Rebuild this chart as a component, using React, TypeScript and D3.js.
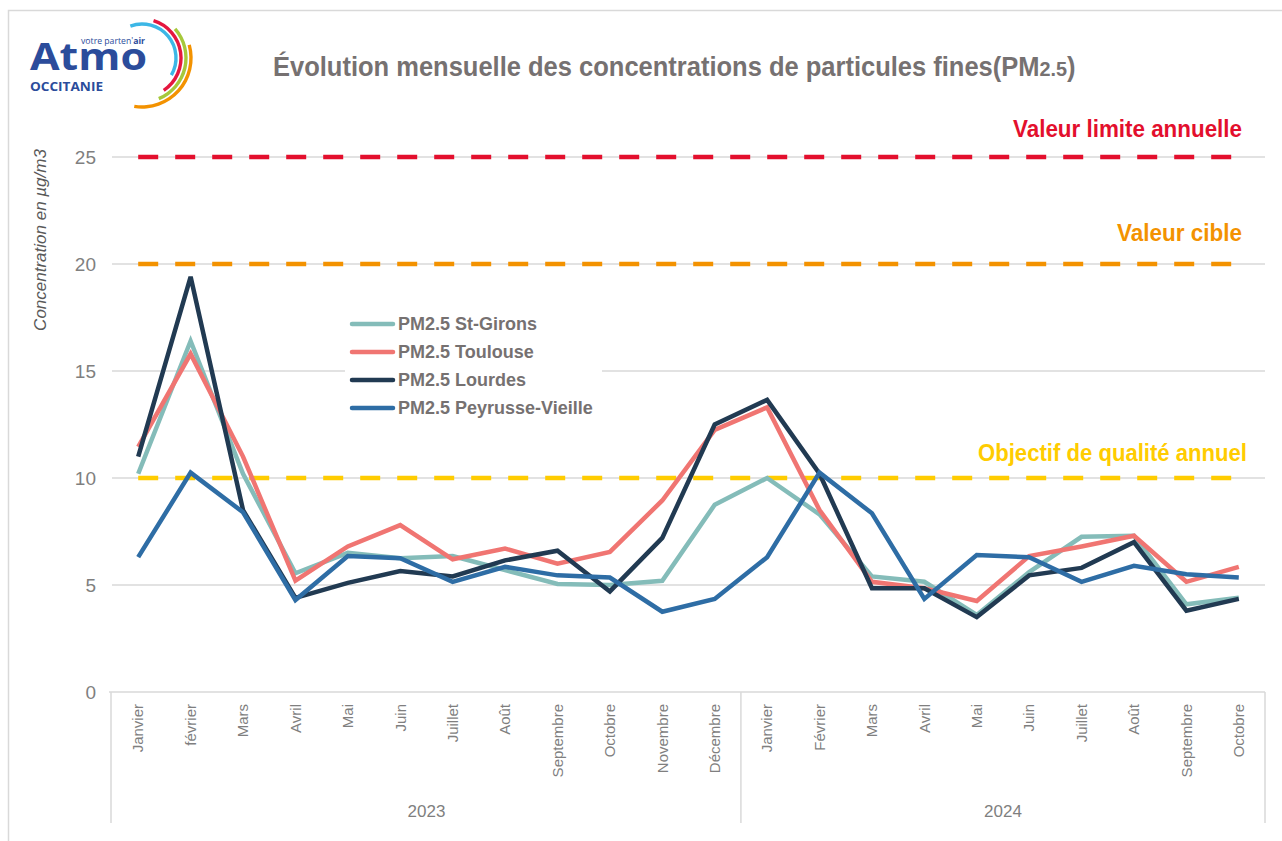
import React from 'react'
import * as d3 from 'd3'

const months2023 = ['Janvier', 'février', 'Mars', 'Avril', 'Mai', 'Juin', 'Juillet', 'Août', 'Septembre', 'Octobre', 'Novembre', 'Décembre']
const months2024 = ['Janvier', 'Février', 'Mars', 'Avril', 'Mai', 'Juin', 'Juillet', 'Août', 'Septembre', 'Octobre']
const years = [
  { label: '2023', months: months2023 },
  { label: '2024', months: months2024 },
]

const stGirons = [10.2, 16.4, 10.2, 5.55, 6.5, 6.25, 6.35, 5.7, 5.05, 5.0, 5.2, 8.75, 10.0, 8.3, 5.4, 5.15, 3.6, 5.6, 7.25, 7.3, 4.1, 4.4]
const toulouse = [11.45, 15.8, 11.0, 5.2, 6.8, 7.8, 6.2, 6.7, 6.0, 6.55, 8.95, 12.25, 13.3, 8.5, 5.15, 4.85, 4.25, 6.35, 6.8, 7.3, 5.15, 5.85]
const lourdes = [11.0, 19.4, 8.5, 4.4, 5.1, 5.65, 5.4, 6.15, 6.6, 4.7, 7.2, 12.5, 13.65, 10.2, 4.85, 4.85, 3.5, 5.45, 5.8, 7.0, 3.8, 4.35]
const peyrusse = [6.3, 10.25, 8.4, 4.3, 6.35, 6.25, 5.15, 5.85, 5.45, 5.35, 3.75, 4.35, 6.3, 10.25, 8.35, 4.35, 6.4, 6.3, 5.15, 5.9, 5.5, 5.35]

const series = [
  { name: 'PM2.5 St-Girons', values: stGirons, color: '#84bcb9' },
  { name: 'PM2.5 Toulouse', values: toulouse, color: '#f07572' },
  { name: 'PM2.5 Lourdes', values: lourdes, color: '#213a52' },
  { name: 'PM2.5 Peyrusse-Vieille', values: peyrusse, color: '#2e6da5' },
]

const thresholds = [
  { label: 'Valeur limite annuelle', value: 25, color: '#e30f2d' },
  { label: 'Valeur cible', value: 20, color: '#f39200' },
  { label: 'Objectif de qualité annuel', value: 10, color: '#ffcc00' },
]

const yTicks = [0, 5, 10, 15, 20, 25]

const narrow = '"Liberation Sans Narrow", "Arial Narrow", "Liberation Sans", sans-serif'

export default function App() {
  const width = 1282
  const height = 841
  const left = 112
  const right = 1265
  const top = 157
  const bottom = 692

  const cats = years.flatMap(y => y.months.map((m, i) => `${y.label}-${i}`))
  const x = d3.scaleBand().domain(cats).range([left, right])
  const cx = (i: number) => (x(cats[i]) as number) + x.bandwidth() / 2
  const y = d3.scaleLinear().domain([0, 25]).range([bottom, top])

  const line = d3.line<number>().x((_, i) => cx(i)).y(d => y(d))

  let offset = 0
  const yearGroups = years.map(yr => {
    const start = x(cats[offset]) as number
    const end = (x(cats[offset + yr.months.length - 1]) as number) + x.bandwidth()
    const g = { ...yr, start, end, offset }
    offset += yr.months.length
    return g
  })

  // label placement for threshold texts (right edge, baseline, width)
  const thrLabels = [
    { xr: 1242, yb: 137, w: 229 },
    { xr: 1242, yb: 241, w: 125 },
    { xr: 1247, yb: 461, w: 269 },
  ]

  const arc = d3.arc()
  const logoArcs = [
    { r: 34, a0: -0.35, a1: 2.1, color: '#3cb7e6' },
    { r: 39, a0: 0.3, a1: 2.55, color: '#e5173f' },
    { r: 44, a0: 0.85, a1: 2.75, color: '#a6c83b' },
    { r: 49, a0: 1.3, a1: 3.3, color: '#f39200' },
  ]

  return (
    <svg width={width} height={height} style={{ position: 'absolute', left: 0, top: 0, background: '#fff' }}>
      <rect x={8.5} y={10.5} width={width} height={height} fill="none" stroke="#d9d9d9" strokeWidth={1.5} />

      {/* logo */}
      <g>
        {logoArcs.map((a, i) => (
          <path key={i} transform="translate(142,58)"
            d={arc({ innerRadius: a.r - 1.7, outerRadius: a.r + 1.7, startAngle: a.a0, endAngle: a.a1 }) as string}
            fill={a.color} />
        ))}
        <text x={30} y={70} fontFamily='"Open Sans", sans-serif' fontWeight={700} fontSize={37} fill="#2b4c9b"
          textLength={117} lengthAdjust="spacingAndGlyphs">Atmo</text>
        <text x={81} y={44} fontFamily='"Open Sans", sans-serif' fontSize={9} fill="#2b4c9b"
          textLength={64} lengthAdjust="spacingAndGlyphs">votre parten'<tspan fontWeight={700}>air</tspan></text>
        <text x={30} y={91} fontFamily='"Open Sans", sans-serif' fontWeight={700} fontSize={12.5} fill="#2b4c9b"
          textLength={73} lengthAdjust="spacingAndGlyphs">OCCITANIE</text>
      </g>

      <text transform="translate(273,76) scale(0.945,1)" fontFamily={narrow} fontWeight={700} fontSize={27} fill="#767171">
        Évolution mensuelle des concentrations de particules fines(PM<tspan fontSize={21}>2.5</tspan>)
      </text>

      {/* grid */}
      {yTicks.filter(t => t > 0).map(t => (
        <line key={t} x1={left} x2={right} y1={y(t)} y2={y(t)} stroke="#d9d9d9" strokeWidth={1.5} />
      ))}
      {yTicks.map(t => (
        <text key={t} x={96} y={y(t)} dy="0.35em" textAnchor="end" fontFamily={narrow} fontSize={19} fill="#7f7f7f">{t}</text>
      ))}
      <text transform={`translate(46,240) rotate(-90)`} textAnchor="middle" fontFamily={narrow} fontStyle="italic" fontSize={17} fill="#595959">
        Concentration en µg/m3
      </text>

      {/* category axis */}
      <line x1={109} x2={right} y1={bottom} y2={bottom} stroke="#d9d9d9" strokeWidth={1.5} />
      <line x1={left - 1} x2={left - 1} y1={bottom} y2={823} stroke="#d9d9d9" strokeWidth={1.5} />
      {yearGroups.map(g => (
        <g key={g.label}>
          <line x1={g.end} x2={g.end} y1={bottom} y2={823} stroke="#d9d9d9" strokeWidth={1.5} />
          {g.months.map((m, i) => (
            <text key={i} transform={`translate(${cx(g.offset + i)},704) rotate(-90)`} dy="0.35em" textAnchor="end"
              fontFamily={narrow} fontSize={15} fill="#7f7f7f">{m}</text>
          ))}
          <text x={(g.start + g.end) / 2} y={817} textAnchor="middle" fontFamily={narrow} fontSize={17} fill="#7f7f7f">{g.label}</text>
        </g>
      ))}

      {/* thresholds */}
      {thresholds.map((t, i) => (
        <g key={t.label}>
          <path d={line(cats.map(() => t.value)) as string} fill="none" stroke={t.color} strokeWidth={4.5}
            strokeDasharray="20 17" />
          <text x={thrLabels[i].xr - thrLabels[i].w} y={thrLabels[i].yb} fontFamily={narrow} fontWeight={700} fontSize={23}
            fill={t.color} textLength={thrLabels[i].w} lengthAdjust="spacingAndGlyphs">{t.label}</text>
        </g>
      ))}

      {/* legend background */}
      <rect x={345} y={310} width={257} height={112} fill="#fff" />

      {/* series */}
      {series.map(s => (
        <path key={s.name} d={line(s.values) as string} fill="none" stroke={s.color} strokeWidth={4.5} strokeLinejoin="miter" />
      ))}

      {/* legend */}
      {series.map((s, i) => (
        <g key={s.name} transform={`translate(350,${324 + i * 28})`}>
          <line x1={2} x2={43} y1={0} y2={0} stroke={s.color} strokeWidth={4.5} strokeLinecap="round" />
          <text x={48} y={0} dy="0.35em" fontFamily={narrow} fontWeight={700} fontSize={18} fill="#767171">{s.name}</text>
        </g>
      ))}
    </svg>
  )
}
